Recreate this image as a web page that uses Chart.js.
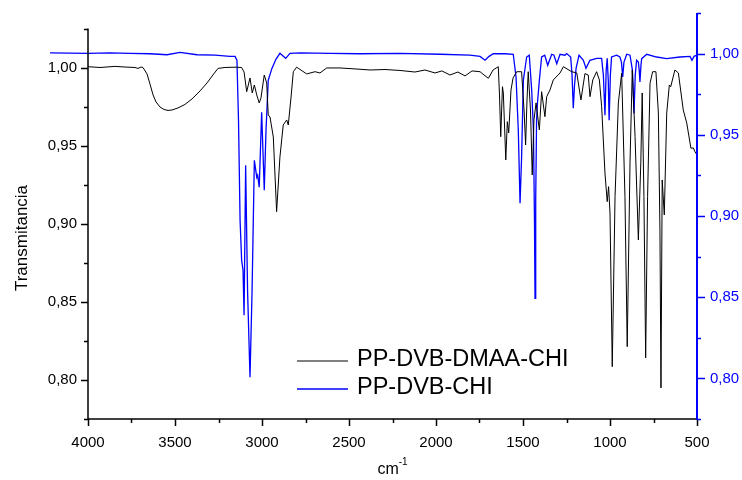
<!DOCTYPE html>
<html>
<head>
<meta charset="utf-8">
<script src="https://cdn.jsdelivr.net/npm/chart.js@4/dist/chart.umd.min.js"></script>
<style>
html,body{margin:0;padding:0;background:#fff;}
#wrap{width:742px;height:480px;position:relative;}
</style>
</head>
<body>
<div id="wrap"><canvas id="c" width="742" height="480"></canvas></div>
<script>
// ---- data (wavenumber cm-1, transmittance) ----
const blackWn = [4000,3931,3845,3787,3730,3713,3695,3684,3661,3644,3626,3609,3586,3563,3540,3517,3483,3443,3402,3356,3316,3282,3253,3213,3155,3117,3103,3088,3069,3056,3044,3030,3016,3006,2987,2973,2964,2954,2935,2916,2897,2878,2858,2849,2833,2820,2801,2743,2695,2667,2628,2552,2466,2379,2293,2207,2121,2063,2006,1966,1920,1874,1833,1793,1747,1724,1699,1672,1642,1635,1628,1618,1613,1599,1590,1582,1569,1557,1536,1508,1494,1485,1477,1470,1457,1447,1437,1425,1406,1393,1374,1364,1345,1326,1287,1268,1220,1191,1167,1144,1125,1115,1099,1077,1061,1048,1029,1016,1008,1000,987,971,952,933,914,901,885,872,856,837,823,815,805,795,784,770,755,736,722,713,707,700,688,674,659,651,627,607,579,559,535,521,512,500];
const blackT = [1.0006,1.0001,1.0008,1.0004,1.0001,0.9995,1.0004,1.0001,0.996,0.9896,0.9825,0.978,0.9748,0.9732,0.9726,0.9729,0.9742,0.9764,0.980,0.9851,0.9902,0.9953,0.9995,1.0001,1.0003,1.0001,0.9972,0.9846,0.9934,0.9838,0.9889,0.9825,0.9774,0.9806,0.9953,0.9902,0.9697,0.9684,0.9556,0.9078,0.9428,0.9633,0.9665,0.9633,0.9812,0.9974,1.0003,0.996,0.9974,0.9966,0.9998,0.9998,0.9992,0.9985,0.9988,0.9982,0.9972,0.9985,0.9966,0.9979,0.9953,0.9972,0.9947,0.9979,0.9974,0.9953,0.9932,0.9985,1.0006,0.9825,0.9558,0.9878,0.9838,0.9409,0.9654,0.9582,0.9857,0.9934,0.9974,0.9974,0.9729,0.9505,0.9793,0.9974,0.9729,0.9313,0.9665,0.9774,0.9601,0.9846,0.9686,0.9814,0.9857,0.9921,0.9966,1.0006,0.9974,0.9966,0.9793,0.9962,0.9953,0.9814,0.9921,0.9974,0.9921,0.975,0.9326,0.9142,0.9238,0.9069,0.8085,0.9174,0.9774,0.9964,0.9174,0.8213,0.939,0.9985,0.9558,0.8897,0.939,0.9838,0.9174,0.8141,0.9174,0.99,0.9974,0.9974,0.971,0.8961,0.7949,0.9281,0.9057,0.971,0.9889,0.9878,0.9985,0.9966,0.9729,0.9646,0.9484,0.9486,0.9462,0.9441];

const blueWn = [4218,4000,3874,3759,3644,3546,3471,3374,3270,3184,3155,3144,3135,3126,3117,3109,3103,3094,3083,3069,3057,3044,3030,3025,3016,3002,2987,2977,2964,2943,2920,2897,2864,2839,2782,2609,2437,2207,1977,1805,1747,1718,1695,1671,1604,1556,1540,1527,1517,1508,1498,1479,1464,1450,1440,1434,1431,1427,1422,1417,1406,1393,1375,1358,1335,1322,1306,1287,1259,1249,1226,1218,1211,1204,1195,1178,1153,1138,1115,1077,1048,1038,1029,1022,1016,1010,1005,998,991,962,943,934,927,920,904,885,871,862,855,847,837,832,828,822,818,789,732,674,598,540,529,517,500];
const blueT = [1.0005,1.0002,1.0005,1.0002,0.9999,0.9993,1.0008,0.9993,0.999,0.9983,0.9983,0.9959,0.9589,0.8974,0.8727,0.8666,0.8389,0.9312,0.8542,0.8007,0.8542,0.9343,0.9238,0.9251,0.9177,0.9639,0.9158,0.9528,0.9836,0.9909,0.9965,1.0002,0.9971,1.0002,1.0005,1.0002,0.9999,1.0002,0.9996,0.999,0.9983,0.9959,0.9983,1.0,0.9999,0.9996,0.9856,0.9528,0.9078,0.9363,0.9836,0.9979,0.999,0.9774,0.9528,0.8974,0.8493,0.9097,0.9589,0.9694,0.9836,0.9979,0.999,0.9928,0.9996,0.999,0.9938,0.9996,0.999,1.0,0.9979,0.9866,0.9663,0.9805,0.9909,0.999,0.9959,0.9909,0.9959,0.9971,0.9971,0.9866,0.962,0.9897,0.9971,0.9836,0.9589,0.9866,0.9979,0.999,0.9979,0.9946,0.9856,0.9946,0.9996,0.999,0.9897,0.9632,0.9866,0.9959,0.9948,0.9897,0.9825,0.9928,0.9969,0.9996,0.9979,0.9969,0.9979,0.9983,0.9959,0.9983,0.999];

const seriesNames = ['PP-DVB-DMAA-CHI', 'PP-DVB-CHI'];
const xTicks = [4000,3500,3000,2500,2000,1500,1000,500];
const xMinor = [3750,3250,2750,2250,1750,1250,750];
const yTicks = [0.80,0.85,0.90,0.95,1.00];
const yMinor = [0.775,0.825,0.875,0.925,0.975,1.025];
const y2Ticks = [0.80,0.85,0.90,0.95,1.00];
const y2Minor = [0.775,0.825,0.875,0.925,0.975,1.025];

const FONT = "'Liberation Sans', Arial, sans-serif";
const BLUE = '#0000ff';
const fmt = v => v.toFixed(2).replace('.', ',');
const noPad = s => { s.paddingTop = 0; s.paddingBottom = 0; s.paddingLeft = 0; s.paddingRight = 0; };

const decor = {
  id: 'decor',
  afterDatasetsDraw(chart) {
    const {ctx, chartArea: a, scales} = chart;
    const x = scales.x, y = scales.y, y2 = scales.y2;
    const seg = (x1,y1,x2,y2_) => { ctx.beginPath(); ctx.moveTo(x1,y1); ctx.lineTo(x2,y2_); ctx.stroke(); };
    ctx.save();
    // bottom axis
    ctx.strokeStyle = '#000'; ctx.lineWidth = 1.5;
    seg(a.left, a.bottom, a.right, a.bottom);
    xTicks.forEach(v => { const p = Math.round(x.getPixelForValue(v)) + 0.5; seg(p, a.bottom, p, a.bottom + 7); });
    xMinor.forEach(v => { const p = Math.round(x.getPixelForValue(v)) + 0.5; seg(p, a.bottom, p, a.bottom + 4); });
    // left axis
    const lTop = y.getPixelForValue(yMinor[yMinor.length - 1]);
    seg(a.left, lTop, a.left, a.bottom);
    yTicks.forEach(v => { const p = Math.round(y.getPixelForValue(v)) + 0.5; seg(a.left - 7, p, a.left, p); });
    yMinor.forEach(v => { const p = Math.round(y.getPixelForValue(v)) + 0.5; seg(a.left - 4, p, a.left, p); });
    // right axis
    ctx.strokeStyle = BLUE; ctx.lineWidth = 2;
    seg(a.right, a.top, a.right, a.bottom + 1);
    ctx.lineWidth = 1.5;
    y2Ticks.forEach(v => { const p = Math.round(y2.getPixelForValue(v)) + 0.5; seg(a.right, p, a.right + 8, p); });
    y2Minor.forEach(v => { const p = Math.round(y2.getPixelForValue(v)) + 0.5; seg(a.right, p, a.right + 4, p); });

    // axis titles
    ctx.fillStyle = '#000';
    ctx.font = '17px ' + FONT;
    ctx.textAlign = 'center'; ctx.textBaseline = 'middle';
    ctx.save();
    ctx.translate(22, 238);
    ctx.rotate(-Math.PI / 2);
    ctx.fillText('Transmitancia', 0, 0);
    ctx.restore();
    ctx.textBaseline = 'alphabetic'; ctx.textAlign = 'left';
    ctx.font = '16px ' + FONT;
    const w1 = ctx.measureText('cm').width;
    ctx.font = '10px ' + FONT;
    const w2 = ctx.measureText('-1').width;
    const cx = (a.left + a.right) / 2 - (w1 + w2) / 2;
    ctx.font = '16px ' + FONT;
    ctx.fillText('cm', cx, 474);
    ctx.font = '10px ' + FONT;
    ctx.fillText('-1', cx + w1, 465);

    // legend
    const ds = chart.data.datasets;
    const rowsY = [361, 389];
    ds.forEach((d, i) => {
      ctx.strokeStyle = d.borderColor; ctx.lineWidth = d.borderWidth;
      seg(297, rowsY[i], 348, rowsY[i]);
      ctx.fillStyle = '#000';
      ctx.font = '23.5px ' + FONT;
      ctx.textAlign = 'left'; ctx.textBaseline = 'middle';
      ctx.fillText(d.label, 357, rowsY[i] - 1);
    });
    ctx.restore();
  }
};

new Chart(document.getElementById('c'), {
  type: 'line',
  data: {
    datasets: [
      { label: seriesNames[0], data: blackWn.map((w, i) => ({x: w, y: blackT[i]})), borderColor: '#000000', borderWidth: 1, pointRadius: 0, yAxisID: 'y', tension: 0 },
      { label: seriesNames[1], data: blueWn.map((w, i) => ({x: w, y: blueT[i]})), borderColor: BLUE, borderWidth: 1.3, pointRadius: 0, yAxisID: 'y2', tension: 0, clip: false }
    ]
  },
  options: {
    responsive: false,
    animation: false,
    devicePixelRatio: 1,
    layout: { padding: { top: 13, left: 0, right: 0, bottom: 0 } },
    plugins: { legend: { display: false }, tooltip: { enabled: false } },
    scales: {
      x: {
        type: 'linear', reverse: true, min: 500, max: 4000, position: 'bottom',
        grid: { display: false, drawTicks: false }, border: { display: false },
        afterBuildTicks: s => { s.ticks = xTicks.map(v => ({value: v})); },
        afterFit: s => { s.height = 61; noPad(s); },
        ticks: { color: '#000', font: { family: FONT, size: 15 }, padding: 15, maxRotation: 0, autoSkip: false, callback: v => String(v) }
      },
      y: {
        type: 'linear', position: 'left', min: 0.775, max: 1.035,
        grid: { display: false, drawTicks: false }, border: { display: false },
        afterBuildTicks: s => { s.ticks = yTicks.map(v => ({value: v})); },
        afterFit: s => { s.width = 88; noPad(s); },
        ticks: { color: '#000', font: { family: FONT, size: 15 }, padding: 11, callback: v => fmt(v) }
      },
      y2: {
        type: 'linear', position: 'right', min: 0.775, max: 1.025,
        grid: { display: false, drawTicks: false }, border: { display: false },
        afterBuildTicks: s => { s.ticks = y2Ticks.map(v => ({value: v})); },
        afterFit: s => { s.width = 45; noPad(s); },
        ticks: { color: BLUE, font: { family: FONT, size: 15 }, padding: 13, callback: v => fmt(v) }
      }
    }
  },
  plugins: [decor]
});
</script>
</body>
</html>
